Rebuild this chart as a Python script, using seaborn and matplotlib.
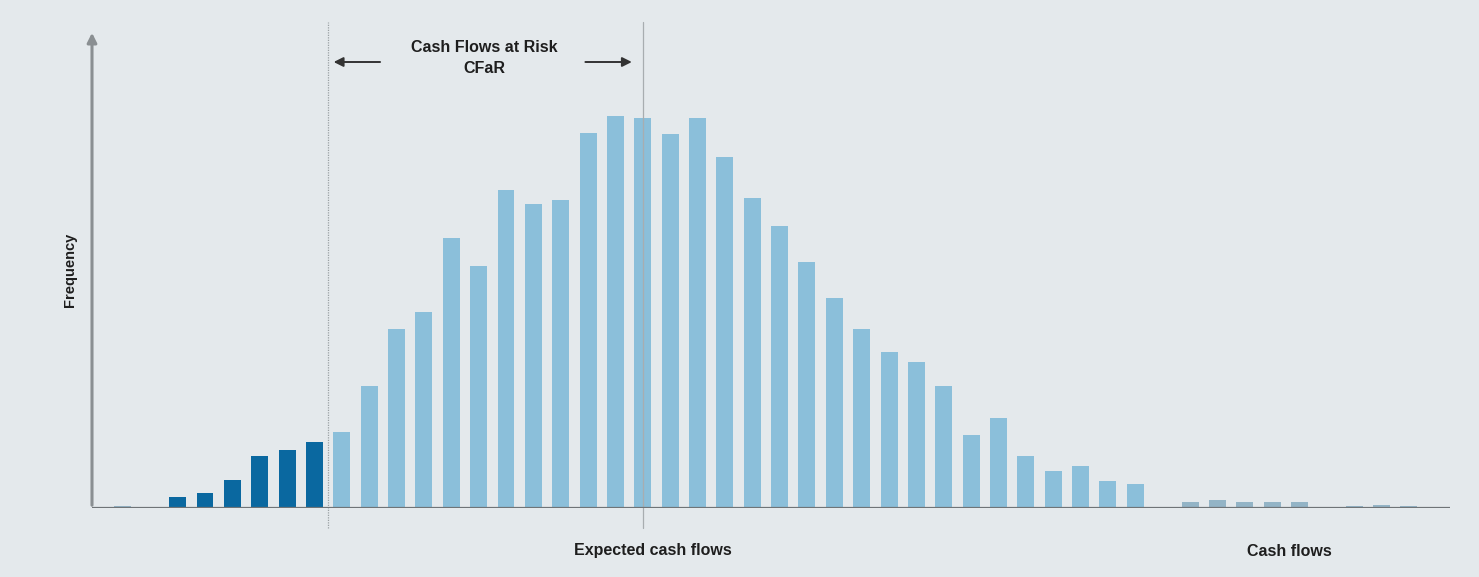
import numpy as np
import pandas as pd
import seaborn as sns
import matplotlib.pyplot as plt

# Histogram of simulated cash flows (bar heights)
bins = list(range(49))
frequency = [2, 0, 11, 15, 28, 52, 58, 66, 76, 122, 179, 196, 270, 242, 318, 304,
             308, 375, 392, 390, 374, 390, 351, 310, 282, 246, 210, 179, 156, 146,
             122, 73, 90, 52, 37, 42, 27, 24, 0, 6, 8, 6, 6, 6, 0, 2, 3, 2, 0]
zone = (['tail'] * 2 + ['risk'] * 6 + ['body'] * 30 + ['tail'] * 11)

cfar_bin = 7.5        # lower edge of the CFaR band
expected_bin = 19     # expected cash flows

df = pd.DataFrame({'bin': bins, 'frequency': frequency, 'zone': zone})

bg = '#e4e9ec'
sns.set_theme(style='white')
plt.rcParams['font.family'] = ['Liberation Sans', 'DejaVu Sans']

fig = plt.figure(figsize=(14.79, 5.77), dpi=100, facecolor=bg)
ax = fig.add_axes([92 / 1479, 69 / 577, (1450 - 92) / 1479, (508 - 30) / 577])
ax.set_facecolor(bg)

palette = {'risk': '#0a68a0', 'body': '#8bbfda', 'tail': '#93b4c6'}
sns.barplot(data=df, x='bin', y='frequency', hue='zone', palette=palette,
            dodge=False, width=0.62, legend=False, saturation=1, linewidth=0,
            ax=ax)

ax.set_xlim(-1.13, 48.5)
ax.set_ylim(0, 478)
ax.set_xticks([])
ax.set_yticks([])
ax.set_xlabel('')
ax.set_ylabel('')
for s in ax.spines.values():
    s.set_visible(False)

# axes: baseline and y arrow
ax.axhline(0, color='#6f7477', lw=1.6, zorder=3)
ax.annotate('', xy=(0, 1.0), xytext=(0, 0), xycoords='axes fraction',
            arrowprops=dict(arrowstyle='-|>', color='#8a8f92', lw=2.2,
                            mutation_scale=14), zorder=3)

# reference lines
ax.plot([cfar_bin, cfar_bin], [-20, 486], color='#9aa0a4', lw=0.9, ls=(0, (1, 1)),
        clip_on=False, zorder=1)
ax.plot([expected_bin, expected_bin], [-20, 486], color='#a8adb0', lw=0.9,
        clip_on=False, zorder=1)

# CFaR annotation
ax.text(13.2, 461, 'Cash Flows at Risk', ha='center', va='center',
        fontsize=11.5, fontweight='bold', color='#1e1e1e')
ax.text(13.2, 440, 'CFaR', ha='center', va='center',
        fontsize=11.5, fontweight='bold', color='#1e1e1e')
ax.annotate('', xy=(cfar_bin + 0.1, 446), xytext=(9.5, 446),
            arrowprops=dict(arrowstyle='-|>', color='#333333', lw=1.4,
                            mutation_scale=14))
ax.annotate('', xy=(expected_bin - 0.3, 446), xytext=(16.8, 446),
            arrowprops=dict(arrowstyle='-|>', color='#333333', lw=1.4,
                            mutation_scale=14))

fig.text(70 / 1479, 1 - 270 / 577, 'Frequency', rotation=90, ha='center',
         va='center', fontsize=10.5, fontweight='bold', color='#1e1e1e')
fig.text(653 / 1479, 1 - 551 / 577, 'Expected cash flows', ha='center',
         va='center', fontsize=11.5, fontweight='bold', color='#1e1e1e')
fig.text(1289 / 1479, 1 - 551 / 577, 'Cash flows', ha='center',
         va='center', fontsize=11.5, fontweight='bold', color='#1e1e1e')

fig.savefig('out.png', dpi=100, facecolor=bg)
